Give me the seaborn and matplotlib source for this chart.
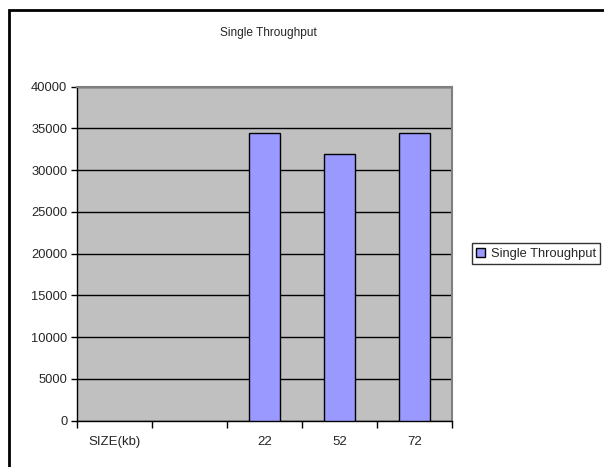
import numpy as np
import pandas as pd
import matplotlib
matplotlib.use("Agg")
import matplotlib.pyplot as plt
from matplotlib.patches import Rectangle
import seaborn as sns

# ---- data ----
categories = ["SIZE(kb)", "", "22", "52", "72"]
throughput = [np.nan, np.nan, 34400, 32000, 34400]
series_name = "Single Throughput"
y_ticks = [0, 5000, 10000, 15000, 20000, 25000, 30000, 35000, 40000]

BAR_COLOR = "#9999FF"
PLOT_BG = "#C0C0C0"

sns.set_style("white")
plt.rcParams["font.family"] = ["Liberation Sans", "DejaVu Sans"]

df = pd.DataFrame({"size": categories, "value": throughput})

fig = plt.figure(figsize=(6.04, 4.67), dpi=100)
ax = fig.add_axes([0.1275, 0.0991, 0.6208, 0.7152])
ax.set_facecolor(PLOT_BG)

sns.barplot(data=df, x="size", y="value", order=categories,
            color=BAR_COLOR, edgecolor="black", linewidth=1.0,
            width=0.42, saturation=1, ax=ax, label=series_name, zorder=3)

ax.set_xlim(-0.5, len(categories) - 0.5)
ax.set_ylim(0, 40000)
ax.set_yticks(y_ticks)
ax.set_yticklabels([str(v) for v in y_ticks], fontsize=9.3)
ax.yaxis.grid(True, color="black", linewidth=1.0, zorder=1)
ax.set_axisbelow(True)

# category labels centred, tick marks on the boundaries
ax.set_xticks(range(len(categories)))
ax.set_xticklabels(categories, fontsize=9.5)
ax.set_xticks(np.arange(-0.5, len(categories)), minor=True)
ax.tick_params(axis="x", which="major", length=0, pad=11)
ax.tick_params(axis="x", which="minor", length=5, width=1, color="black",
               direction="out", bottom=True)
ax.tick_params(axis="y", length=4, width=1, color="black", direction="out",
               pad=3, left=True)
ax.set_xlabel("")
ax.set_ylabel("")

for side in ["left", "bottom"]:
    ax.spines[side].set_color("black")
    ax.spines[side].set_linewidth(1.0)
for side in ["top", "right"]:
    ax.spines[side].set_visible(True)
    ax.spines[side].set_color("#808080")
    ax.spines[side].set_linewidth(1.5)

fig.text(0.444, 0.929, series_name, ha="center", va="center", fontsize=8.6)

leg = ax.legend(loc="center left", bbox_to_anchor=(1.053, 0.50),
                frameon=True, fancybox=False, edgecolor="black",
                fontsize=9.3, handlelength=0.7, handleheight=0.7,
                handletextpad=0.4, borderpad=0.35, borderaxespad=0)
leg.get_frame().set_linewidth(1.0)

# outer chart border
fig.patches.append(Rectangle((9 / 604, -0.1), 1.2, 1 - 10 / 467 + 0.1,
                             transform=fig.transFigure, fill=False,
                             edgecolor="black", linewidth=2))

fig.savefig("out.png", dpi=100)
